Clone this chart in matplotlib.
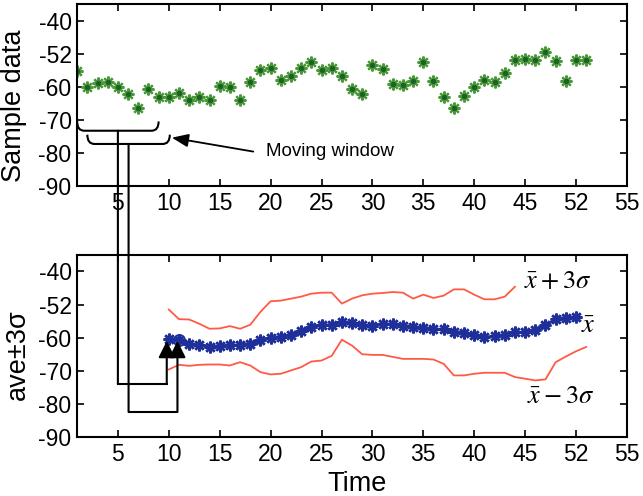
import numpy as np
import matplotlib
matplotlib.use('Agg')
import matplotlib.pyplot as plt
from matplotlib.patches import ConnectionPatch, PathPatch
from matplotlib.path import Path

plt.rcParams['font.family'] = ['Liberation Sans', 'DejaVu Sans']
plt.rcParams['mathtext.fontset'] = 'stix'

# raw samples, t = 1..51
t_sample = np.arange(1, 52)
sample = [-55.2, -60.1, -58.9, -58.6, -60.1, -62.2, -66.5, -60.6, -63.1, -63.2,
          -61.9, -64.1, -63.2, -63.9, -59.7, -60.1, -64.1, -58.6, -55.1, -54.3,
          -57.9, -56.7, -54.3, -52.6, -55.1, -54.3, -56.9, -60.7, -62.1, -53.3,
          -54.5, -59.2, -59.6, -58.4, -52.5, -58.4, -63.1, -66.5, -62.9, -60.1,
          -57.9, -58.7, -55.9, -51.8, -51.6, -51.8, -49.6, -52.3, -58.4, -51.8,
          -51.8]

# moving-window average, t = 10..50
t_ave = np.arange(10, 51)
ave = [-60.5, -60.8, -61.8, -62.3, -62.8, -62.6, -62.3, -62.1, -61.8, -60.8,
       -60.1, -59.8, -59.1, -58.1, -56.8, -56.1, -56.1, -55.3, -55.6, -56.3,
       -56.4, -55.8, -55.8, -56.5, -56.8, -57.1, -57.3, -57.5, -58.3, -58.5,
       -59.3, -59.8, -59.6, -59.1, -58.3, -58.3, -57.6, -56.3, -54.5, -54.0,
       -53.7]

# ave + 3 sigma, t = 10..44
t_upper = np.arange(10, 45)
upper = [-51.5, -54.4, -54.5, -55.8, -57.3, -57.2, -56.5, -57.3, -56.1, -52.2,
         -49.0, -48.8, -48.2, -47.6, -46.7, -46.4, -46.4, -49.7, -48.2, -47.2,
         -46.7, -46.5, -46.2, -46.4, -48.2, -47.0, -48.0, -47.3, -45.4, -45.4,
         -47.0, -48.4, -48.4, -47.6, -44.6]

# ave - 3 sigma, t = 10..51
t_lower = np.arange(10, 52)
lower = [-69.6, -68.2, -68.5, -68.2, -68.1, -68.1, -68.4, -67.4, -68.4, -70.4,
         -71.1, -70.9, -69.9, -68.9, -67.2, -66.9, -65.5, -60.6, -62.4, -65.0,
         -65.2, -65.2, -65.8, -66.4, -66.4, -66.4, -66.6, -67.9, -71.4, -71.4,
         -70.9, -70.6, -70.6, -70.6, -71.9, -72.4, -72.9, -72.6, -67.4, -65.7,
         -64.1, -62.8]

xticks = [5, 10, 15, 20, 25, 30, 35, 40, 45, 50, 55]
xticklabels = ['5', '10', '15', '20', '25', '30', '35', '40', '45', '52', '55']
yticks = [-90, -80, -70, -60, -50, -40]
yticklabels = ['-90', '-80', '-70', '-60', '-52', '-40']

fig = plt.figure(figsize=(6.43, 4.96), dpi=100)
ax1 = fig.add_axes([0.12, 0.625, 0.855, 0.367])
ax2 = fig.add_axes([0.12, 0.119, 0.855, 0.367])

for ax in (ax1, ax2):
    ax.set_xlim(1, 55)
    ax.set_ylim(-90, -35)
    ax.set_xticks(xticks)
    ax.set_xticklabels(xticklabels)
    ax.set_yticks(yticks)
    ax.set_yticklabels(yticklabels)
    ax.tick_params(direction='in', length=5, width=1.2, labelsize=16.5,
                   top=True, right=True, pad=4)
    for s in ax.spines.values():
        s.set_linewidth(1.5)

star = (8, 2, 0)

ax1.plot(t_sample, sample, linestyle='none', marker=star, markersize=8.5,
         markeredgewidth=1.6, color='#4a9a3a')
ax1.plot(t_sample, sample, linestyle='none', marker='o', markersize=2.8,
         color='#1f5f2a')
ax1.set_ylabel('Sample data', fontsize=19.5)
ax1.yaxis.label.set_va('center')
ax1.yaxis.set_label_coords(-0.115, 0.44)

ax2.plot(t_upper, upper, color='#ff5a46', lw=1.3)
ax2.plot(t_lower, lower, color='#ff5a46', lw=1.3)
ax2.plot(t_ave, ave, color='#1f2f9a', lw=1.8, marker=star, markersize=8.5,
         markeredgewidth=1.8)
ax2.plot(t_ave[1], ave[1], marker='o', markersize=8, mfc='none',
         mec='#1f2f9a', mew=1.3)
ax2.set_ylabel('ave±3σ', fontsize=19.5)
ax2.yaxis.label.set_va('center')
ax2.yaxis.set_label_coords(-0.108, 0.45)
ax2.set_xlabel('Time', fontsize=19.5)
ax2.xaxis.label.set_va('center')
ax2.xaxis.set_label_coords(0.51, -0.26)

ax2.text(44.9, -43.0, r'$\bar{x}+3\sigma$', fontsize=19, va='center',
         ha='left', backgroundcolor='white')
ax2.text(50.5, -56.6, r'$\bar{x}$', fontsize=19, va='center', ha='left')
ax2.text(45.2, -77.6, r'$\bar{x}-3\sigma$', fontsize=19, va='center', ha='left')


def bracket(ax, x0, x1, y, h=2.8, w=0.7):
    verts = [(x0, y + h), (x0, y), (x0 + w, y), (x1 - w, y),
             (x1, y), (x1, y + h)]
    codes = [Path.MOVETO, Path.CURVE3, Path.CURVE3, Path.LINETO,
             Path.CURVE3, Path.CURVE3]
    ax.add_patch(PathPatch(Path(verts, codes), fill=False, lw=1.5,
                           color='black', clip_on=False))


# the two moving windows and where their averages land
windows = [(1.0, 9.0, -73.3, -73.9, 9.8), (2.0, 10.1, -77.3, -82.4, 10.85)]
for x0, x1, yb, ylow, xarr in windows:
    bracket(ax1, x0, x1, yb)
    xc = (x0 + x1) / 2
    con = ConnectionPatch(xyA=(xc, yb), coordsA=ax1.transData,
                          xyB=(xc, ylow), coordsB=ax2.transData,
                          color='black', lw=1.5)
    fig.add_artist(con)
    ax2.plot([xc, xarr], [ylow, ylow], color='black', lw=1.5, clip_on=False)
    ax2.annotate('', xy=(xarr, -61.0), xytext=(xarr, ylow),
                 arrowprops=dict(arrowstyle='-|>,head_length=1.0,head_width=0.5',
                                 mutation_scale=10, color='black', lw=1.5,
                                 shrinkA=0, shrinkB=0))

ax1.annotate('', xy=(10.3, -75.4), xytext=(18.3, -79.6),
             arrowprops=dict(arrowstyle='-|>,head_length=1.0,head_width=0.4',
                             mutation_scale=10, color='black', lw=1.3,
                             shrinkA=0, shrinkB=0))
ax1.text(19.5, -79.7, 'Moving window', fontsize=13.5, va='center', ha='left')

fig.savefig('out.png', dpi=100)
